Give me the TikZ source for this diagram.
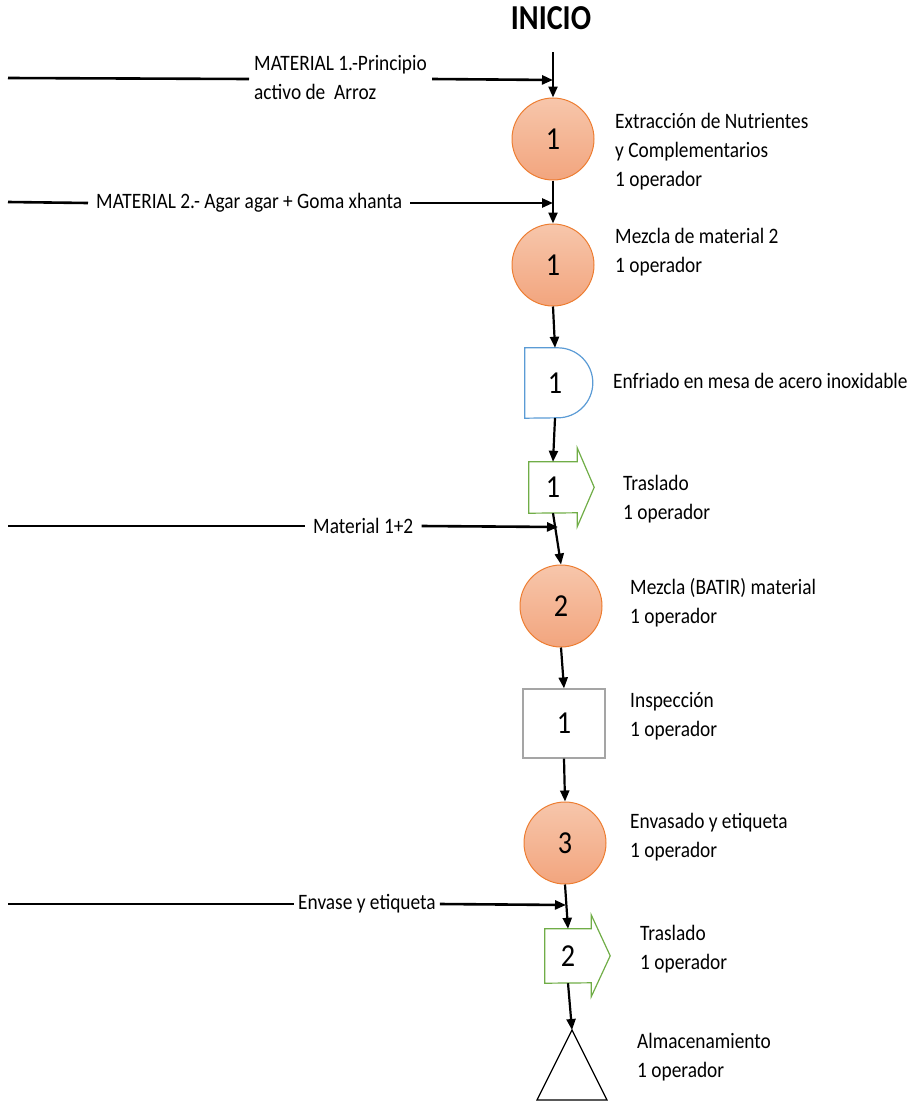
\documentclass[tikz,border=0pt]{standalone}
\usepackage{fontspec}
\setmainfont{Carlito}
\usetikzlibrary{arrows.meta}
\definecolor{opfillA}{HTML}{F7C6AB}
\definecolor{opfillB}{HTML}{F2A57E}
\definecolor{opline}{HTML}{ED7D31}
\definecolor{delayblue}{HTML}{5B9BD5}
\definecolor{movegreen}{HTML}{70AD47}
\definecolor{inspgray}{HTML}{A5A5A5}
\newcommand{\nar}[1]{\scalebox{0.88}[1]{#1}}
\newcommand{\lbl}[1]{\scalebox{0.88}[1]{\begin{tabular}[t]{@{}l@{}}#1\end{tabular}}}
\newcommand{\numfont}{\fontsize{32}{36}\selectfont}
\newcommand{\lblfont}{\fontsize{22}{29}\selectfont}

\begin{document}
\begin{tikzpicture}[x=1pt,y=1pt,>={Triangle[length=11pt,width=9pt]},
	flow/.style={->,line width=2.2pt},
	feed/.style={line width=2.6pt},
	feedlbl/.style={font=\lblfont,inner xsep=8pt,inner ysep=0pt,anchor=west},
	steplbl/.style={font=\lblfont,inner sep=0pt,anchor=base west},
	opcirc/.style={circle,draw=opline,line width=1pt,top color=opfillA,bottom color=opfillB,
		minimum size=82pt,inner sep=0pt,font=\numfont},
	shapebox/.style={inner sep=0pt,font=\numfont}]
\useasboundingbox (0,0) rectangle (911,-1103);

%----------------------------
% Title
%----------------------------
\node[font=\fontsize{35}{36}\selectfont\bfseries] (inicio) at (551,-18) {\scalebox{0.86}[1]{INICIO}};
\coordinate (start) at (553,-52);

%----------------------------
% Operations and symbols
%----------------------------
\node[opcirc] (extr) at (553,-139) {\nar{1}};
\node[opcirc] (mezc) at (553,-265) {\nar{1}};

% delay (D)
\node[shapebox,minimum width=60pt,minimum height=70pt] (enfr) at (555,-383) {\nar{1}};
\draw[delayblue,line width=1.2pt] (enfr.south west) -- (enfr.north west) -- ++(33,0)
	arc (90:-90:35pt) -- cycle;

% transport 1
\node[shapebox,minimum width=48pt,minimum height=51pt] (tras1) at (553,-487.5) {\nar{1}};
\draw[movegreen,line width=1.2pt] (tras1.north west) -- (tras1.north east) -- ++(0,14)
	-- ++(17,-39.5) -- ++(-17,-39.5) -- ++(0,14) -- (tras1.south west) -- cycle;

\node[opcirc] (bati) at (561,-606) {\nar{2}};

% inspection
\node[shapebox,draw=inspgray,line width=1.2pt,minimum width=82pt,minimum height=69pt] (insp) at (564,-723.5) {\nar{1}};

\node[opcirc] (enva) at (565,-843) {\nar{3}};

% transport 2
\node[shapebox,minimum width=46pt,minimum height=54pt] (tras2) at (568,-956) {\nar{2}};
\draw[movegreen,line width=1.2pt] (tras2.north west) -- (tras2.north east) -- ++(0,14)
	-- ++(19,-41) -- ++(-19,-41) -- ++(0,14) -- (tras2.south west) -- cycle;

% storage
\coordinate (alma) at (572,-1030);
\draw[line width=1.2pt] (alma) -- (607,-1100) -- (537,-1100) -- cycle;

%----------------------------
% Main flow
%----------------------------
\draw[flow] (start) -- (extr.north);
\draw[flow] (extr.south) -- (mezc.north);
\draw[flow] (mezc.south) -- (enfr.north);
\draw[flow] (enfr.south) -- (tras1.north);
\draw[flow] (tras1.south) -- (bati.north);
\draw[flow] (bati.south) -- (insp.north);
\draw[flow] (insp.south) -- (enva.north);
\draw[flow] (enva.south) -- (tras2.north);
\draw[flow] (tras2.south) -- (alma);

%----------------------------
% Incoming materials
%----------------------------
\coordinate (s1) at (8,-78);   \coordinate (j1) at (553,-80);
\coordinate (s2) at (8,-202);  \coordinate (j2) at (553,-203);
\coordinate (s3) at (8,-526);  \coordinate (j3) at (558,-527);
\coordinate (s4) at (8,-904);  \coordinate (j4) at (566,-905);

\node[feedlbl,inner xsep=5pt] (mat1) at (249,-79) {\lbl{MATERIAL 1.-Principio\\activo de\ \ Arroz}};
\node[feedlbl] (mat2) at (88,-203) {\nar{MATERIAL 2.- Agar agar + Goma xhanta}};
\node[feedlbl] (mat12) at (305,-526) {\nar{Material 1+2}};
\node[feedlbl,inner xsep=4pt] (envl) at (294,-904) {\nar{Envase y etiqueta}};

\draw[feed] (s1) -- (mat1.west);
\draw[feed,->] (mat1.east) -- (j1);
\draw[feed] (s2) -- (mat2.west);
\draw[feed,->] (mat2.east) -- (j2);
\draw[feed] (s3) -- (mat12.west);
\draw[feed,->] (mat12.east) -- (j3);
\draw[feed] (s4) -- (envl.west);
\draw[feed,->] (envl.east) -- (j4);

%----------------------------
% Step descriptions
%----------------------------
\node[steplbl] (lextr) at (615,-128) {\lbl{Extracción de Nutrientes\\y Complementarios\\1 operador}};
\node[steplbl] (lmezc) at (615,-243) {\lbl{Mezcla de material 2\\1 operador}};
\node[steplbl] (lenfr) at (613,-388) {\lbl{Enfriado en mesa de acero inoxidable}};
\node[steplbl] (ltras1) at (623,-490) {\lbl{Traslado\\1 operador}};
\node[steplbl] (lbati) at (630,-594) {\lbl{Mezcla (BATIR) material\\1 operador}};
\node[steplbl] (linsp) at (630,-707) {\lbl{Inspección\\1 operador}};
\node[steplbl] (lenva) at (630,-828) {\lbl{Envasado y etiqueta\\1 operador}};
\node[steplbl] (ltras2) at (640,-940) {\lbl{Traslado\\1 operador}};
\node[steplbl] (lalma) at (637,-1048) {\lbl{Almacenamiento\\1 operador}};
\end{tikzpicture}
\end{document}
